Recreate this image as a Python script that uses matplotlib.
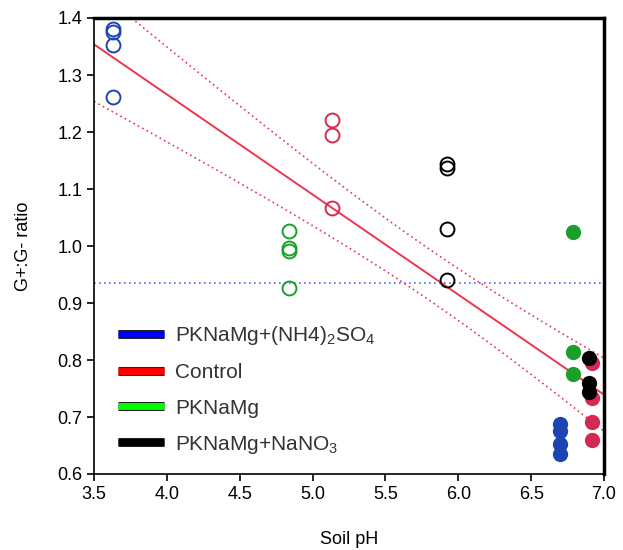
import numpy as np
import matplotlib
matplotlib.use("Agg")
import matplotlib.pyplot as plt
from matplotlib.lines import Line2D
import matplotlib.patheffects as pe

plt.rcParams['font.family'] = ['Liberation Sans Narrow', 'Liberation Sans', 'DejaVu Sans']
plt.rcParams['mathtext.fontset'] = 'custom'
plt.rcParams['mathtext.rm'] = 'Liberation Sans'

# Data: (soil pH, G+:G- ratio)
blue_open_x = [3.63, 3.63, 3.63, 3.63]
blue_open_y = [1.380, 1.375, 1.353, 1.261]
red_open_x = [5.13, 5.13, 5.13]
red_open_y = [1.221, 1.194, 1.067]
green_open_x = [4.84, 4.84, 4.84, 4.84]
green_open_y = [1.027, 0.997, 0.991, 0.926]
black_open_x = [5.92, 5.92, 5.92, 5.92]
black_open_y = [1.143, 1.136, 1.030, 0.941]

blue_fill_x = [6.70, 6.70, 6.70, 6.70]
blue_fill_y = [0.688, 0.675, 0.653, 0.635]
green_fill_x = [6.79, 6.79, 6.79]
green_fill_y = [1.025, 0.814, 0.775]
red_fill_x = [6.92, 6.92, 6.92, 6.92]
red_fill_y = [0.795, 0.733, 0.691, 0.660]
black_fill_x = [6.90, 6.90, 6.90]
black_fill_y = [0.803, 0.760, 0.744]

ref_level = 0.935

legend_labels = [r'PKNaMg+(NH4)$_2$SO$_4$', 'Control', 'PKNaMg', r'PKNaMg+NaNO$_3$']
legend_colors = ['#0000ff', '#ff0000', '#00ff00', '#000000']

c_blue = '#1c45b3'
c_red = '#d42a52'
c_green = '#1aa02a'
c_black = '#000000'
c_line = '#ee3550'

fig = plt.figure(figsize=(6.23, 5.5), dpi=100)
ax = fig.add_axes([94/623, 1-474/550, (604-94)/623, (474-18)/550])

# regression with 95% confidence band
allx = np.array(blue_open_x + red_open_x + green_open_x + black_open_x +
                blue_fill_x + green_fill_x + red_fill_x + black_fill_x)
ally = np.array(blue_open_y + red_open_y + green_open_y + black_open_y +
                blue_fill_y + green_fill_y + red_fill_y + black_fill_y)
b, a = np.polyfit(allx, ally, 1)
n = len(allx)
resid = ally - (a + b*allx)
s = np.sqrt(np.sum(resid**2)/(n-2))
xm = allx.mean()
sxx = np.sum((allx-xm)**2)
t = 2.052
xs = np.linspace(3.5, 7.0, 200)
yfit = a + b*xs
half = t*s*np.sqrt(1/n + (xs-xm)**2/sxx)
ax.plot(xs, yfit, color=c_line, lw=1.4, zorder=2)
ax.plot(xs, yfit+half, color=c_line, lw=1.2, ls=(0, (1, 2)), zorder=2)
ax.plot(xs, yfit-half, color=c_line, lw=1.2, ls=(0, (1, 2)), zorder=2)
ax.axhline(ref_level, color='#4a6fd8', lw=1.2, ls=(0, (1, 2)), zorder=1)

for xv, yv, c in [(blue_open_x, blue_open_y, c_blue), (red_open_x, red_open_y, c_red),
                  (green_open_x, green_open_y, c_green), (black_open_x, black_open_y, c_black)]:
    ax.plot(xv, yv, 'o', ms=10, mfc='none', mec=c, mew=1.4, ls='none', zorder=3)
for xv, yv, c in [(blue_fill_x, blue_fill_y, c_blue), (green_fill_x, green_fill_y, c_green),
                  (red_fill_x, red_fill_y, c_red), (black_fill_x, black_fill_y, c_black)]:
    ax.plot(xv, yv, 'o', ms=11, mfc=c, mec=c, mew=0, ls='none', zorder=4)

ax.set_xlim(3.5, 7.0)
ax.set_ylim(0.6, 1.4)
xt = np.arange(3.5, 7.01, 0.5)
yt = np.arange(0.6, 1.401, 0.1)
ax.set_xticks(xt)
ax.set_yticks(yt)
ax.set_xticklabels([f'{v:.1f}' for v in xt])
ax.set_yticklabels([f'{v:.1f}' for v in yt])
ax.tick_params(direction='out', length=5, width=1.2, labelsize=13, colors='black')
ax.spines['left'].set_linewidth(1.2)
ax.spines['bottom'].set_linewidth(1.2)
ax.spines['top'].set_linewidth(2.5)
ax.spines['right'].set_linewidth(2.5)
ax.set_xlabel('Soil pH', fontsize=13, labelpad=20)
ax.set_ylabel('G+:G- ratio', fontsize=13, labelpad=18)

handles = [Line2D([0], [0], color=c, lw=5, solid_capstyle='butt') for c in legend_colors]
for h in handles:
    h.set_path_effects([pe.Stroke(linewidth=6.5, foreground='#222222'), pe.Normal()])
leg = ax.legend(handles, legend_labels, loc='lower left', bbox_to_anchor=(0.047, 0.04),
                frameon=False, fontsize=15, handlelength=2.2, handletextpad=0.55,
                labelspacing=0.78, borderpad=0, borderaxespad=0)
for txt in leg.get_texts():
    txt.set_color('#333333')

fig.savefig('out.png', dpi=100)
